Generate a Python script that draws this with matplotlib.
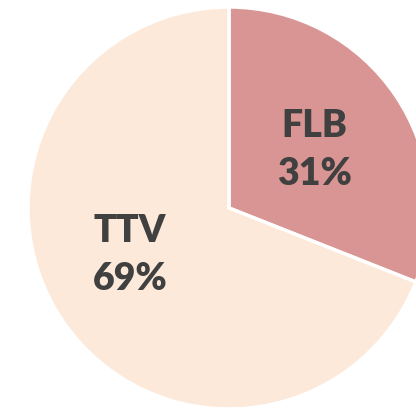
import numpy as np
import matplotlib.pyplot as plt

# ----- Data -----
labels = ["FLB", "TTV"]
shares = [31, 69]
colors = ["#D99594", "#FDE9D9"]

# label placement (radius fraction, angle in degrees) - Excel "best fit" spots
label_pos = [(0.515, 34), (0.545, 205.5)]

W, H = 416, 408
cx, cy, r = 229, H - 208, 201

fig = plt.figure(figsize=(W / 100, H / 100), dpi=100)
ax = fig.add_axes([0, 0, 1, 1])

ax.pie(shares, colors=colors, startangle=90, counterclock=False,
       center=(cx, cy), radius=r, frame=True,
       wedgeprops=dict(edgecolor="white", linewidth=2.5))
ax.set_xlim(0, W)
ax.set_ylim(0, H)
ax.set_aspect("equal")
ax.axis("off")

for lab, val, (f, ang) in zip(labels, shares, label_pos):
    x = cx + f * r * np.cos(np.radians(ang))
    y = cy + f * r * np.sin(np.radians(ang))
    ax.text(x, y, f"{lab}\n{val}%", ha="center", va="center",
            fontsize=27, fontweight="heavy", family="Lato",
            color="#404040", linespacing=1.5)

fig.savefig("out.png", dpi=100)
